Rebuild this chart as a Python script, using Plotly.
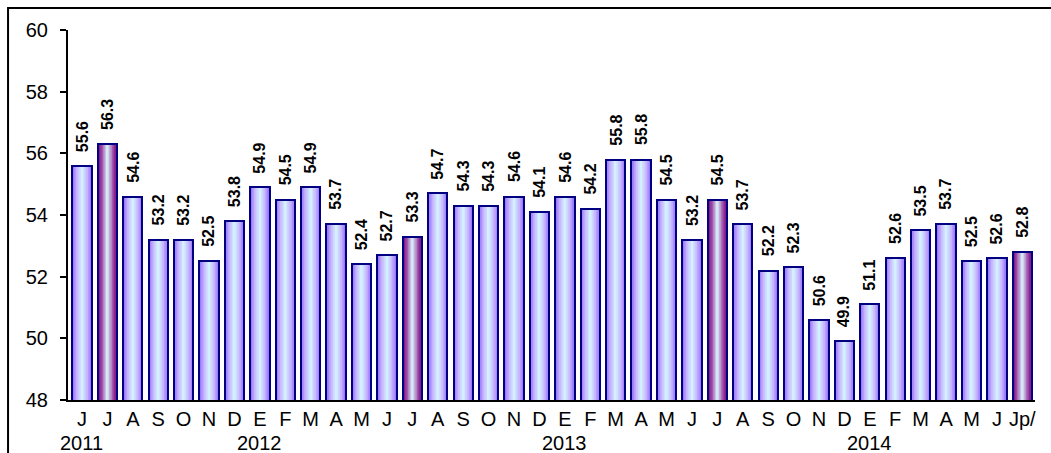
import plotly.graph_objects as go

# ---- data ----
months = ["J", "J", "A", "S", "O", "N", "D",
          "E", "F", "M", "A", "M", "J", "J", "A", "S", "O", "N", "D",
          "E", "F", "M", "A", "M", "J", "J", "A", "S", "O", "N", "D",
          "E", "F", "M", "A", "M", "J", "Jp/"]
values = [55.6, 56.3, 54.6, 53.2, 53.2, 52.5, 53.8,
          54.9, 54.5, 54.9, 53.7, 52.4, 52.7, 53.3, 54.7, 54.3, 54.3, 54.6, 54.1,
          54.6, 54.2, 55.8, 55.8, 54.5, 53.2, 54.5, 53.7, 52.2, 52.3, 50.6, 49.9,
          51.1, 52.6, 53.5, 53.7, 52.5, 52.6, 52.8]
year_labels = {0: "2011", 7: "2012", 19: "2013", 31: "2014"}
highlighted = [1, 13, 25, 37]
y_ticks = [48, 50, 52, 54, 56, 58, 60]

x = list(range(len(values)))

FONT = "Liberation Sans, Arial, sans-serif"
BAR_W = 0.76
N_LAYERS = 14


def lerp(c1, c2, t):
    return tuple(int(round(a + (b - a) * t)) for a, b in zip(c1, c2))


def grad(stops, t):
    for (t0, c0), (t1, c1) in zip(stops, stops[1:]):
        if t <= t1:
            return lerp(c0, c1, (t - t0) / (t1 - t0) if t1 > t0 else 0)
    return stops[-1][1]


normal_stops = [(0.0, (145, 110, 250)), (0.45, (198, 178, 255)), (1.0, (212, 240, 255))]
hi_stops = [(0.0, (120, 0, 125)), (0.4, (155, 70, 165)), (0.75, (190, 170, 215)), (1.0, (215, 230, 245))]

fig = go.Figure()
for k in range(N_LAYERS):
    t = k / (N_LAYERS - 1)
    cn = "rgb(%d,%d,%d)" % grad(normal_stops, t)
    ch = "rgb(%d,%d,%d)" % grad(hi_stops, t)
    colors = [ch if i in highlighted else cn for i in x]
    fig.add_trace(go.Bar(
        x=x, y=values, width=BAR_W * (1 - k / N_LAYERS),
        marker=dict(color=colors, line=dict(width=0)),
        hoverinfo="skip", showlegend=False,
    ))
# outline
fig.add_trace(go.Bar(
    x=x, y=values, width=BAR_W,
    marker=dict(color="rgba(0,0,0,0)", line=dict(color="#000080", width=2)),
    hoverinfo="skip", showlegend=False,
))

for i, v in zip(x, values):
    fig.add_annotation(
        x=i, y=v, text="<b>%.1f</b>" % v, textangle=-90, showarrow=False,
        xanchor="center", yanchor="bottom", yshift=12,
        font=dict(family=FONT, size=16, color="black"),
    )

for i, yr in year_labels.items():
    fig.add_annotation(
        x=i, y=0, xref="x", yref="paper", text=yr, showarrow=False,
        xanchor="center", yanchor="top", yshift=-30,
        font=dict(family=FONT, size=20, color="black"),
    )

fig.add_shape(type="rect", xref="paper", yref="paper",
              x0=-0.062, x1=1.2, y0=-0.5, y1=1.0595,
              line=dict(color="black", width=2), fillcolor="rgba(0,0,0,0)")

fig.update_layout(
    width=1051, height=453,
    margin=dict(l=68, r=16, t=30, b=53, autoexpand=False),
    barmode="overlay", bargap=0,
    plot_bgcolor="white", paper_bgcolor="white",
    font=dict(family=FONT, size=20, color="black"),
    xaxis=dict(
        range=[-0.55, 37.5], tickmode="array", tickvals=x, ticktext=months,
        showline=True, linecolor="black", linewidth=2, ticks="",
        showgrid=False, zeroline=False, tickangle=0, automargin=False,
        tickfont=dict(family=FONT, size=20, color="black"),
    ),
    yaxis=dict(
        range=[48, 60], tickmode="array", tickvals=y_ticks,
        showline=True, linecolor="black", linewidth=2, automargin=False,
        ticks="outside", ticklen=6, tickwidth=2, tickcolor="black",
        showgrid=False, zeroline=False,
        tickfont=dict(family=FONT, size=20, color="black"),
        ticklabelstandoff=8,
    ),
)

fig.write_html(
    "out.html",
    config={"displayModeBar": False},
    post_script="document.body.style.margin='0';document.body.style.padding='0';"
                "document.documentElement.style.overflow='hidden';",
)
